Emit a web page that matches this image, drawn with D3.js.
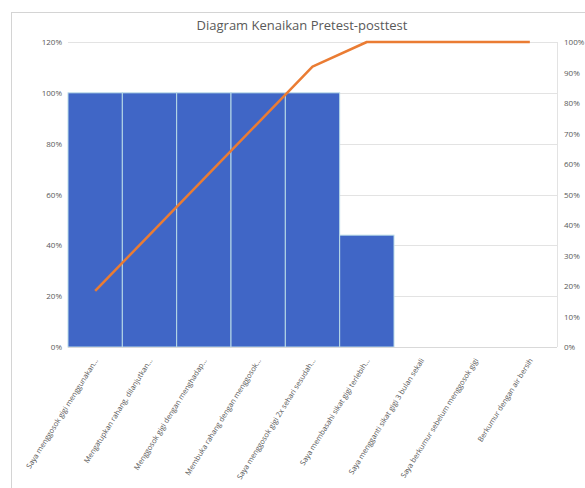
<!DOCTYPE html>
<html>
<head>
<meta charset="utf-8">
<script src="https://cdn.jsdelivr.net/npm/d3@7"></script>
<style>
  html, body { margin: 0; padding: 0; background: #fff; }
  svg { display: block; }
  text { font-family: "Open Sans", "Noto Sans", sans-serif; fill: #595959; }
</style>
</head>
<body>
<svg id="chart" width="585" height="488"></svg>
<script>
// Items of the pretest/posttest questionnaire
const categories = [
  "Saya menggosok gigi menggunakan…",
  "Mengatupkan rahang, dilanjutkan…",
  "Menggosok gigi dengan menghadap…",
  "Membuka rahang dengan menggosok…",
  "Saya menggosok gigi 2x sehari sesudah…",
  "Saya membasahi sikat gigi terlebih…",
  "Saya mengganti sikat gigi 3 bulan sekali",
  "Saya berkumur sebelum menggosok gigi",
  "Berkumur dengan air bersih"
];
// Increase per item (fraction)
const kenaikan = [1.00, 1.00, 1.00, 1.00, 1.00, 0.44, 0, 0, 0];
// Cumulative share (Pareto line, right axis)
const kumulatif = [0.184, 0.368, 0.551, 0.735, 0.919, 1.00, 1.00, 1.00, 1.00];
const leftTicks = [0, 0.2, 0.4, 0.6, 0.8, 1.0, 1.2];
const rightTicks = [0, 0.1, 0.2, 0.3, 0.4, 0.5, 0.6, 0.7, 0.8, 0.9, 1.0];
const title = "Diagram Kenaikan Pretest-posttest";

const svg = d3.select("#chart");
const plot = { left: 68, right: 557, top: 42, bottom: 347 };

// Chart frame
svg.append("rect")
  .attr("x", 11.5).attr("y", 12.5)
  .attr("width", 600).attr("height", 500)
  .attr("fill", "#fff").attr("stroke", "#d4d4d4").attr("stroke-width", 1);

svg.append("text")
  .attr("x", 302).attr("y", 30)
  .attr("text-anchor", "middle")
  .style("font-size", "13px")
  .text(title);

const x = d3.scaleBand().domain(categories).range([plot.left, plot.right]).padding(0);
const yL = d3.scaleLinear().domain([0, 1.2]).range([plot.bottom, plot.top]);
const yR = d3.scaleLinear().domain([0, 1.0]).range([plot.bottom, plot.top]);

// Gridlines
svg.append("g")
  .selectAll("line").data(leftTicks).join("line")
  .attr("x1", plot.left).attr("x2", plot.right)
  .attr("y1", d => Math.round(yL(d)) + 0.5).attr("y2", d => Math.round(yL(d)) + 0.5)
  .attr("stroke", "#e3e3e3").attr("stroke-width", 1);

svg.append("line")
  .attr("x1", plot.right + 0.5).attr("x2", plot.right + 0.5)
  .attr("y1", plot.top).attr("y2", plot.bottom)
  .attr("stroke", "#e3e3e3");

// Bars
svg.append("g")
  .selectAll("rect").data(kenaikan).join("rect")
  .attr("x", (d, i) => x(categories[i]))
  .attr("y", d => yL(d))
  .attr("width", x.bandwidth())
  .attr("height", d => plot.bottom - yL(d))
  .attr("fill", "#4066c6")
  .attr("stroke", d => d > 0 ? "#b9dbe8" : "none")
  .attr("stroke-width", 1);

// Left axis
const axL = d3.axisLeft(yL).tickValues(leftTicks).tickSize(0).tickPadding(6)
  .tickFormat(d => Math.round(d * 100) + "%");
svg.append("g").attr("transform", `translate(${plot.left},0)`).call(axL)
  .call(g => g.select(".domain").remove())
  .selectAll("text").style("font-size", "8px").style("font-family", null);

// Right axis
const axR = d3.axisRight(yR).tickValues(rightTicks).tickSize(0).tickPadding(7)
  .tickFormat(d => Math.round(d * 100) + "%");
svg.append("g").attr("transform", `translate(${plot.right},0)`).call(axR)
  .call(g => g.select(".domain").remove())
  .selectAll("text").style("font-size", "8px").style("font-family", null);

// Bottom axis line
svg.append("line")
  .attr("x1", plot.left).attr("x2", plot.right)
  .attr("y1", plot.bottom + 0.5).attr("y2", plot.bottom + 0.5)
  .attr("stroke", "#d9d9d9");

// Category labels
svg.append("g")
  .selectAll("text").data(categories).join("text")
  .attr("transform", d => `translate(${x(d) + x.bandwidth() / 2 + 1},${plot.bottom + 12}) rotate(-58)`)
  .attr("text-anchor", "end")
  .attr("dy", "0.35em")
  .style("font-size", "7.4px")
  .text(d => d);

// Cumulative line
const line = d3.line()
  .x((d, i) => x(categories[i]) + x.bandwidth() / 2)
  .y(d => yR(d));
svg.append("path")
  .datum(kumulatif)
  .attr("d", line)
  .attr("fill", "none")
  .attr("stroke", "#ea7c33")
  .attr("stroke-width", 2.5)
  .attr("stroke-linejoin", "round");
</script>
</body>
</html>
